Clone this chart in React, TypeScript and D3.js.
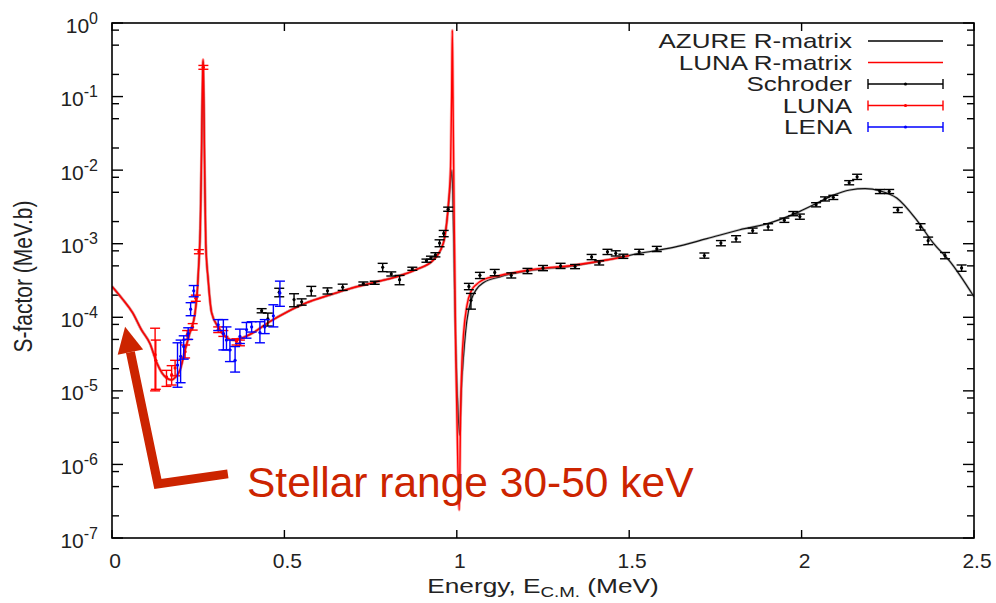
import { useEffect, useRef } from "react";
import * as d3 from "d3";

const width = 996;
const height = 603;
const margin = { top: 23, right: 22, bottom: 65, left: 112 };

// axis ticks
const xTicks = [0, 0.5, 1, 1.5, 2, 2.5];
const xTickLabels = ["0", "0.5", "1", "1.5", "2", "2.5"];
const yExponents = [0, -1, -2, -3, -4, -5, -6, -7];
const yMinorMantissas = [2, 5, 8];

// R-matrix fits: [E (MeV), S (MeV b)]
const lunaFit = [
  [0.0, 2.63e-4], [0.03, 1.78e-4], [0.06, 1.15e-4], [0.085, 6.8e-5], [0.11, 4.4e-5],
  [0.13, 2.4e-5], [0.145, 1.75e-5], [0.158, 1.5e-5], [0.172, 1.41e-5], [0.185, 1.55e-5],
  [0.197, 1.9e-5], [0.212, 3.6e-5], [0.226, 6.2e-5], [0.241, 1.15e-4], [0.248, 2.5e-4],
  [0.252, 5.6e-4], [0.256, 1.6e-3], [0.259, 1.0e-2], [0.261, 5.0e-2], [0.263, 0.2],
  [0.264, 0.32], [0.265, 0.25], [0.267, 0.05], [0.269, 8e-3], [0.272, 1e-3],
  [0.279, 3.2e-4], [0.289, 1.15e-4], [0.308, 7.4e-5], [0.33, 5.4e-5], [0.352, 4.9e-5],
  [0.375, 5.2e-5], [0.41, 6.2e-5], [0.457, 8.7e-5], [0.506, 1.17e-4], [0.565, 1.58e-4],
  [0.63, 2.0e-4], [0.69, 2.45e-4], [0.757, 2.95e-4], [0.825, 3.55e-4], [0.883, 4.47e-4],
  [0.932, 6.0e-4], [0.961, 1.02e-3], [0.975, 3.2e-3], [0.982, 1.12e-2], [0.985, 0.1],
  [0.987, 0.8], [0.989, 0.1], [0.992, 3.2e-3], [0.997, 3.2e-5], [1.003, 1e-6],
  [1.007, 2.4e-7], [1.011, 5e-6], [1.015, 2.5e-5], [1.02, 6.3e-5], [1.029, 1.41e-4],
  [1.043, 2.34e-4], [1.057, 2.8e-4], [1.077, 3.24e-4], [1.125, 3.7e-4], [1.22, 4.47e-4],
  [1.338, 5.1e-4], [1.434, 6.0e-4], [1.5, 6.9e-4],
];

const azureFit = [
  [0.0, 2.63e-4], [0.03, 1.78e-4], [0.06, 1.15e-4], [0.085, 6.8e-5], [0.11, 4.4e-5],
  [0.13, 2.4e-5], [0.145, 1.75e-5], [0.158, 1.5e-5], [0.172, 1.41e-5], [0.185, 1.55e-5],
  [0.197, 1.9e-5], [0.212, 3.6e-5], [0.226, 6.2e-5], [0.241, 1.15e-4], [0.248, 2.5e-4],
  [0.252, 5.6e-4], [0.256, 1.6e-3], [0.259, 1.0e-2], [0.261, 5.0e-2], [0.263, 0.2],
  [0.264, 0.3], [0.265, 0.24], [0.267, 0.05], [0.269, 8e-3], [0.272, 1e-3],
  [0.279, 3.2e-4], [0.289, 1.15e-4], [0.308, 7.4e-5], [0.33, 5.4e-5], [0.352, 4.9e-5],
  [0.375, 5.2e-5], [0.41, 6.2e-5], [0.457, 8.7e-5], [0.506, 1.17e-4], [0.565, 1.58e-4],
  [0.63, 2.0e-4], [0.69, 2.45e-4], [0.757, 2.95e-4], [0.825, 3.55e-4], [0.883, 4.47e-4],
  [0.932, 6.0e-4], [0.961, 1.02e-3], [0.975, 3.0e-3], [0.982, 7e-3], [0.986, 1.0e-2],
  [0.99, 2e-3], [0.995, 1e-4], [1.002, 8e-6], [1.008, 2.5e-6], [1.013, 1e-5],
  [1.02, 3.2e-5], [1.029, 8.9e-5], [1.043, 1.78e-4], [1.057, 2.4e-4], [1.077, 2.95e-4],
  [1.125, 3.55e-4], [1.22, 4.37e-4], [1.338, 5.0e-4], [1.434, 6.0e-4], [1.531, 7.4e-4],
  [1.628, 8.9e-4], [1.725, 1.17e-3], [1.821, 1.55e-3], [1.899, 1.86e-3], [1.995, 2.75e-3],
  [2.044, 3.55e-3], [2.092, 4.57e-3], [2.14, 5.37e-3], [2.184, 5.62e-3], [2.227, 5.25e-3],
  [2.276, 4.17e-3], [2.334, 2.09e-3], [2.382, 1.02e-3], [2.43, 5.75e-4], [2.5, 1.9e-4],
];

// Schroder data: [E, S, err]
const schroder = [
  [0.434, 1.23e-4, 8e-6], [0.452, 9.5e-5, 1.9e-5], [0.485, 2.19e-4, 2.9e-5],
  [0.528, 1.74e-4, 3.5e-5], [0.55, 1.62e-4, 1.6e-5], [0.578, 2.29e-4, 3.4e-5],
  [0.625, 2.29e-4, 2.2e-5], [0.669, 2.57e-4, 2.5e-5], [0.729, 2.88e-4, 1.4e-5],
  [0.762, 2.95e-4, 1.4e-5], [0.785, 4.79e-4, 6.2e-5], [0.81, 3.89e-4, 2.5e-5],
  [0.834, 3.24e-4, 4.7e-5], [0.871, 4.57e-4, 2.2e-5], [0.912, 5.89e-4, 2.9e-5],
  [0.925, 6.46e-4, 3.1e-5], [0.938, 7.08e-4, 4.6e-5], [0.95, 1.02e-3, 1.1e-4],
  [0.962, 1.38e-3, 1.35e-4], [0.975, 2.95e-3, 1.9e-4], [1.035, 2.63e-4, 2.6e-5],
  [1.041, 1.7e-4, 4.1e-5], [1.067, 3.72e-4, 3.6e-5], [1.11, 4.07e-4, 4e-5],
  [1.158, 3.72e-4, 3e-5], [1.205, 4.27e-4, 3.5e-5], [1.25, 4.68e-4, 3.8e-5],
  [1.301, 5.01e-4, 4.1e-5], [1.343, 4.9e-4, 3.2e-5], [1.391, 6.61e-4, 5.4e-5],
  [1.413, 5.5e-4, 3.6e-5], [1.437, 7.76e-4, 6.3e-5], [1.461, 7.41e-4, 6e-5],
  [1.483, 6.76e-4, 4.4e-5], [1.529, 7.76e-4, 6.3e-5], [1.58, 8.51e-4, 6.9e-5],
  [1.718, 6.92e-4, 5.6e-5], [1.766, 1.02e-3, 8.3e-5], [1.81, 1.17e-3, 1.15e-4],
  [1.858, 1.51e-3, 1.2e-4], [1.903, 1.7e-3, 1.7e-4], [1.95, 2.09e-3, 1.4e-4],
  [1.976, 2.57e-3, 1.7e-4], [1.995, 2.34e-3, 1.9e-4], [2.042, 3.39e-3, 2.2e-4],
  [2.068, 4.07e-3, 2.6e-4], [2.092, 4.27e-3, 2.8e-4], [2.138, 6.76e-3, 4.4e-4],
  [2.161, 8.13e-3, 6.6e-4], [2.227, 5.13e-3, 3.3e-4], [2.254, 5.13e-3, 3.3e-4],
  [2.279, 2.88e-3, 2.3e-4], [2.345, 1.7e-3, 1.7e-4], [2.367, 1.1e-3, 1.3e-4],
  [2.416, 6.92e-4, 6.8e-5], [2.464, 4.68e-4, 4.6e-5],
];

// LUNA data: [E, S, low, high]
const lunaData = [
  [0.125, 3.1e-5, 1.0e-5, 7.1e-5], [0.127, 2.6e-5, 1.05e-5, 4.9e-5],
  [0.158, 1.55e-5, 1.15e-5, 1.9e-5], [0.173, 1.66e-5, 1.2e-5, 2.2e-5],
  [0.183, 2.04e-5, 1.6e-5, 2.6e-5], [0.212, 3.4e-5, 2.8e-5, 4.2e-5],
  [0.218, 5.75e-5, 5.0e-5, 6.6e-5], [0.234, 7.4e-5, 6.7e-5, 8.2e-5],
  [0.243, 1.82e-4, 1.65e-4, 2.0e-4], [0.252, 7.8e-4, 7.3e-4, 8.3e-4],
  [0.265, 0.25, 0.235, 0.265], [0.308, 6.8e-5, 6.2e-5, 7.4e-5],
  [0.323, 6.0e-5, 5.5e-5, 6.6e-5], [0.361, 4.7e-5, 4.2e-5, 5.1e-5],
  [0.371, 4.5e-5, 4.1e-5, 4.9e-5],
];

// LENA data: [E, S, low, high]
const lenaData = [
  [0.19, 2.24e-5, 1.12e-5, 4.5e-5], [0.199, 2.95e-5, 1.29e-5, 4.9e-5],
  [0.208, 4.0e-5, 2.7e-5, 5.6e-5], [0.221, 6.0e-5, 5.0e-5, 7.2e-5],
  [0.228, 1.29e-4, 1.05e-4, 1.58e-4], [0.237, 2.29e-4, 1.9e-4, 2.7e-4],
  [0.308, 7.9e-5, 6.6e-5, 9.3e-5], [0.323, 6.0e-5, 3.6e-5, 9.3e-5],
  [0.332, 4.9e-5, 3.6e-5, 7.4e-5], [0.342, 3.6e-5, 2.5e-5, 4.9e-5],
  [0.357, 2.6e-5, 1.8e-5, 4.0e-5], [0.371, 5.5e-5, 4.4e-5, 6.9e-5],
  [0.39, 6.8e-5, 5.2e-5, 8.5e-5], [0.405, 7.4e-5, 6.3e-5, 8.7e-5],
  [0.429, 6.2e-5, 4.5e-5, 8.7e-5], [0.443, 7.4e-5, 6.0e-5, 9.3e-5],
  [0.468, 1.05e-4, 7.4e-5, 1.48e-4], [0.487, 2.14e-4, 1.41e-4, 3.1e-4],
];

const legendLabels = ["AZURE R-matrix", "LUNA R-matrix", "Schroder", "LUNA", "LENA"];
const legendColors = ["#000", "#ff0000", "#000", "#ff0000", "#0000ff"];
const legendIsBar = [false, false, true, true, true];

// annotation arrow in data coords: end of foot, corner, tip
const arrowPath = [[0.336, 7.43e-7], [0.133, 5.42e-7], [0.038, 7.45e-5]];
const annotationPos = [0.3915, 3.6e-7];
const annotationText = "Stellar range 30-50 keV";

const FONT = "'Liberation Sans', Arial, Helvetica, sans-serif";

export default function App() {
  const svgRef = useRef(null);

  useEffect(() => {
    const svg = d3.select(svgRef.current);
    svg.selectAll("*").remove();

    const x0 = margin.left;
    const x1 = width - margin.right;
    const y0 = height - margin.bottom;
    const y1 = margin.top;

    const x = d3.scaleLinear().domain([0, 2.5]).range([x0, x1]);
    const y = d3.scaleLog().domain([1e-7, 1]).range([y0, y1]);

    svg.append("rect").attr("width", width).attr("height", height).attr("fill", "#fff");

    svg.append("clipPath").attr("id", "plotclip")
      .append("rect").attr("x", x0).attr("y", y1).attr("width", x1 - x0).attr("height", y0 - y1);

    const axes = svg.append("g").attr("stroke", "#000").attr("stroke-width", 1.4);

    // x ticks (bottom + top mirror)
    xTicks.forEach((t) => {
      axes.append("line").attr("x1", x(t)).attr("x2", x(t)).attr("y1", y0).attr("y2", y0 - 8);
      axes.append("line").attr("x1", x(t)).attr("x2", x(t)).attr("y1", y1).attr("y2", y1 + 8);
    });

    // y ticks, major and minor, left + right mirror
    yExponents.forEach((p) => {
      const v = Math.pow(10, p);
      axes.append("line").attr("x1", x0).attr("x2", x0 + 11).attr("y1", y(v)).attr("y2", y(v));
      axes.append("line").attr("x1", x1).attr("x2", x1 - 11).attr("y1", y(v)).attr("y2", y(v));
      if (p > -7) {
        yMinorMantissas.forEach((m) => {
          const mv = (m * v) / 10;
          axes.append("line").attr("x1", x0).attr("x2", x0 + 7).attr("y1", y(mv)).attr("y2", y(mv));
          axes.append("line").attr("x1", x1).attr("x2", x1 - 7).attr("y1", y(mv)).attr("y2", y(mv));
        });
      }
    });

    // x tick labels
    svg.append("g")
      .selectAll("text")
      .data(xTicks)
      .enter()
      .append("text")
      .attr("x", (d) => x(d) + 3)
      .attr("y", y0 + 30)
      .attr("text-anchor", "middle")
      .attr("font-family", FONT)
      .attr("font-size", 21)
      .attr("fill", "#222")
      .text((d, i) => xTickLabels[i]);

    // y tick labels 10^n
    const yl = svg.append("g").attr("font-family", FONT).attr("fill", "#222");
    yExponents.forEach((p) => {
      const t = yl.append("text")
        .attr("x", 98)
        .attr("y", y(Math.pow(10, p)) + 9.5)
        .attr("text-anchor", "end");
      t.append("tspan").attr("font-size", 21).text("10");
      t.append("tspan").attr("font-size", 16).attr("dy", -9).text(String(p));
    });

    // axis titles
    const xt = svg.append("g")
      .attr("transform", `translate(${(x0 + x1) / 2},${height - 10}) scale(1.25,1)`)
      .append("text")
      .attr("text-anchor", "middle")
      .attr("font-family", FONT)
      .attr("font-size", 21)
      .attr("fill", "#222");
    xt.append("tspan").text("Energy, E");
    xt.append("tspan").attr("font-size", 15).attr("dy", 4).text("C.M.");
    xt.append("tspan").attr("dy", -4).text(" (MeV)");

    svg.append("text")
      .attr("transform", `translate(32,${(y0 + y1) / 2 - 4}) rotate(-90) scale(1,1.25)`)
      .attr("text-anchor", "middle")
      .attr("font-family", FONT)
      .attr("font-size", 21)
      .attr("fill", "#222")
      .text("S-factor (MeV.b)");

    // curves
    const line = d3.line()
      .x((d) => x(d[0]))
      .y((d) => y(d[1]))
      .curve(d3.curveMonotoneX);

    const plot = svg.append("g").attr("clip-path", "url(#plotclip)");

    plot.append("path").datum(azureFit)
      .attr("d", line).attr("fill", "none")
      .attr("stroke", "#888").attr("stroke-width", 2.6).attr("opacity", 0.5);
    plot.append("path").datum(azureFit)
      .attr("d", line).attr("fill", "none")
      .attr("stroke", "#111").attr("stroke-width", 1.2);

    plot.append("path").datum(lunaFit)
      .attr("d", line).attr("fill", "none")
      .attr("stroke", "#ff6060").attr("stroke-width", 3).attr("opacity", 0.55);
    plot.append("path").datum(lunaFit)
      .attr("d", line).attr("fill", "none")
      .attr("stroke", "#ff0000").attr("stroke-width", 1.4);

    // error bars
    const drawBars = (rows, color) => {
      const g = plot.append("g").attr("stroke", color).attr("stroke-width", 1.4);
      rows.forEach(([e, s, lo, hi]) => {
        const cx = x(e);
        g.append("line").attr("x1", cx).attr("x2", cx).attr("y1", y(lo)).attr("y2", y(hi));
        g.append("line").attr("x1", cx - 5).attr("x2", cx + 5).attr("y1", y(lo)).attr("y2", y(lo));
        g.append("line").attr("x1", cx - 5).attr("x2", cx + 5).attr("y1", y(hi)).attr("y2", y(hi));
        g.append("circle").attr("cx", cx).attr("cy", y(s)).attr("r", 1.6)
          .attr("fill", color).attr("stroke", "none");
      });
    };
    drawBars(schroder.map(([e, s, err]) => [e, s, s - err, s + err]), "#000");
    drawBars(lunaData, "#ff0000");
    drawBars(lenaData, "#0000ff");

    // frame
    svg.append("rect")
      .attr("x", x0).attr("y", y1).attr("width", x1 - x0).attr("height", y0 - y1)
      .attr("fill", "none").attr("stroke", "#000").attr("stroke-width", 1.6);

    // legend
    const legend = svg.append("g");
    legendLabels.forEach((label, i) => {
      const ly = 41 + i * 21.5;
      legend.append("text")
        .attr("transform", `translate(852,${ly + 7}) scale(1.3,1)`)
        .attr("text-anchor", "end")
        .attr("font-family", FONT)
        .attr("font-size", 20)
        .attr("fill", "#222")
        .text(label);
      const c = legendColors[i];
      legend.append("line").attr("x1", 868).attr("x2", 943).attr("y1", ly).attr("y2", ly)
        .attr("stroke", c).attr("stroke-width", legendIsBar[i] ? 1.4 : 1.3);
      if (legendIsBar[i]) {
        [868, 943].forEach((cx) => {
          legend.append("line").attr("x1", cx).attr("x2", cx).attr("y1", ly - 5).attr("y2", ly + 5)
            .attr("stroke", c).attr("stroke-width", 1.4);
        });
        legend.append("circle").attr("cx", 905.5).attr("cy", ly).attr("r", 1.6).attr("fill", c);
      }
    });

    // annotation arrow
    const red = "#cc2400";
    const pts = arrowPath.map(([e, s]) => [x(e), y(s)]);
    const tip = pts[2];
    const prev = pts[1];
    const dx = tip[0] - prev[0];
    const dy = tip[1] - prev[1];
    const len = Math.hypot(dx, dy);
    const ux = dx / len;
    const uy = dy / len;
    const headLen = 26;
    const headHalf = 13;
    const base = [tip[0] - ux * headLen, tip[1] - uy * headLen];
    svg.append("path")
      .attr("d", d3.line()([pts[0], pts[1], base]))
      .attr("fill", "none").attr("stroke", red).attr("stroke-width", 9)
      .attr("stroke-linejoin", "miter");
    svg.append("path")
      .attr("d", d3.line()([
        tip,
        [base[0] - uy * headHalf, base[1] + ux * headHalf],
        [base[0] + uy * headHalf, base[1] - ux * headHalf],
      ]) + "Z")
      .attr("fill", red);

    svg.append("text")
      .attr("x", x(annotationPos[0]))
      .attr("y", y(annotationPos[1]))
      .attr("font-family", FONT)
      .attr("font-size", 42.5)
      .attr("fill", red)
      .text(annotationText);
  }, []);

  return (
    <svg
      ref={svgRef}
      width={width}
      height={height}
      style={{ position: "absolute", left: 0, top: 0 }}
    ></svg>
  );
}
